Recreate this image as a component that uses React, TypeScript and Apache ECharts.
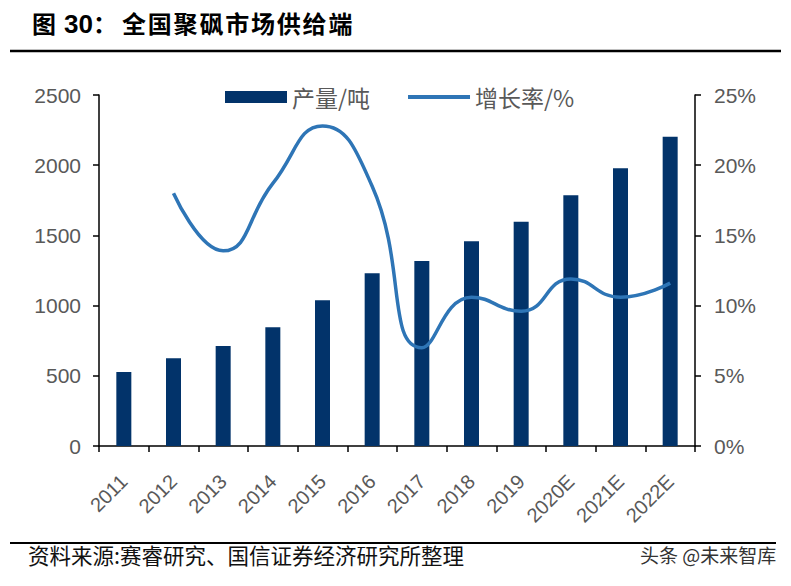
import React, { useEffect, useRef } from "react";
import * as echarts from "echarts";

const categories = ["2011", "2012", "2013", "2014", "2015", "2016", "2017", "2018", "2019", "2020E", "2021E", "2022E"];
const production = [527, 625, 712, 845, 1038, 1230, 1318, 1458, 1598, 1786, 1978, 2203];
const growth = [null, 18.0, 13.9, 18.7, 22.8, 18.5, 7.0, 10.6, 9.6, 11.9, 10.6, 11.6];
const leftTicks = { min: 0, max: 2500, interval: 500 };
const rightTicks = { min: 0, max: 25, interval: 5 };

const titleChars = "全国聚砜市场供给端".split("");

export default function App() {
  const ref = useRef<HTMLDivElement>(null);
  useEffect(() => {
    if (!ref.current) return;
    const chart = echarts.init(ref.current, null, { renderer: "svg" });
    const latin = "'Liberation Sans', Arial, sans-serif";
    const cjk = "'Noto Sans CJK SC', sans-serif";
    const titleGraphics: any[] = [
      { type: "text", left: 32, top: 10, style: { text: "图", font: `bold 24px ${cjk}`, fill: "#000" } },
      { type: "text", left: 64, top: 11, style: { text: "30", font: `bold 26px ${latin}`, fill: "#000" } },
      { type: "text", left: 93, top: 10, style: { text: "：", font: `bold 24px ${cjk}`, fill: "#000" } },
    ];
    titleChars.forEach((c, i) => {
      titleGraphics.push({
        type: "text",
        left: 122 + i * 25.8,
        top: 10,
        style: { text: c, font: `bold 24px ${cjk}`, fill: "#000" },
      });
    });
    chart.setOption({
      animation: false,
      backgroundColor: "#fff",
      grid: { left: 99, right: 96, top: 95, bottom: 140, containLabel: false },
      legend: {
        left: 225,
        top: 85,
        padding: 0,
        itemGap: 36,
        itemWidth: 62,
        itemHeight: 12,
        textStyle: { fontFamily: cjk, fontSize: 23, color: "#595959", lineHeight: 24 },
        data: [
          { name: "产量/吨", icon: "rect" },
          { name: "增长率/%", itemStyle: { opacity: 0, borderWidth: 0 }, lineStyle: { width: 4, color: "#2E75B6" } },
        ],
      },
      xAxis: {
        type: "category",
        data: categories,
        axisLine: { lineStyle: { color: "#000", width: 1.5 } },
        axisTick: { show: true, length: 6, lineStyle: { color: "#000", width: 1.5 } },
        axisLabel: { rotate: 45, fontFamily: latin, fontSize: 20, color: "#595959", margin: 32, interval: 0 },
      },
      yAxis: [
        {
          type: "value",
          ...leftTicks,
          splitLine: { show: false },
          axisLine: { show: true, lineStyle: { color: "#000", width: 1.5 } },
          axisTick: { show: true, length: 6, lineStyle: { color: "#000", width: 1.5 } },
          axisLabel: { fontFamily: latin, fontSize: 21, color: "#595959", margin: 18, formatter: (v: number) => String(v) },
        },
        {
          type: "value",
          ...rightTicks,
          position: "right",
          splitLine: { show: false },
          axisLine: { show: true, lineStyle: { color: "#000", width: 1.5 } },
          axisTick: { show: true, length: 6, lineStyle: { color: "#000", width: 1.5 } },
          axisLabel: { fontFamily: latin, fontSize: 21, color: "#595959", margin: 19, formatter: "{value}%" },
        },
      ],
      series: [
        {
          name: "产量/吨",
          type: "bar",
          data: production,
          barWidth: 15,
          itemStyle: { color: "#02336A" },
        },
        {
          name: "增长率/%",
          type: "line",
          yAxisIndex: 1,
          data: growth,
          smooth: 0.5,
          symbol: "none",
          connectNulls: false,
          lineStyle: { color: "#2E75B6", width: 3.5 },
          itemStyle: { color: "#2E75B6" },
        },
      ],
      graphic: [
        ...titleGraphics,
        { type: "line", shape: { x1: 10, y1: 51, x2: 781, y2: 51 }, style: { stroke: "#000", lineWidth: 2.5 } },
        { type: "line", shape: { x1: 10, y1: 543, x2: 776, y2: 543 }, style: { stroke: "#000", lineWidth: 2 } },
        {
          type: "text",
          left: 28,
          top: 544,
          style: { text: "资料来源:赛睿研究、国信证券经济研究所整理", font: `21.5px ${cjk}`, fill: "#111" },
        },
        {
          type: "text",
          left: 640,
          top: 545,
          style: { text: "头条 @未来智库", font: `19px ${cjk}`, fill: "#333" },
        },
      ],
    });
    return () => chart.dispose();
  }, []);
  return (
    <div
      ref={ref}
      style={{ position: "fixed", left: 0, top: 0, width: 791, height: 586, background: "#fff" }}
    />
  );
}
